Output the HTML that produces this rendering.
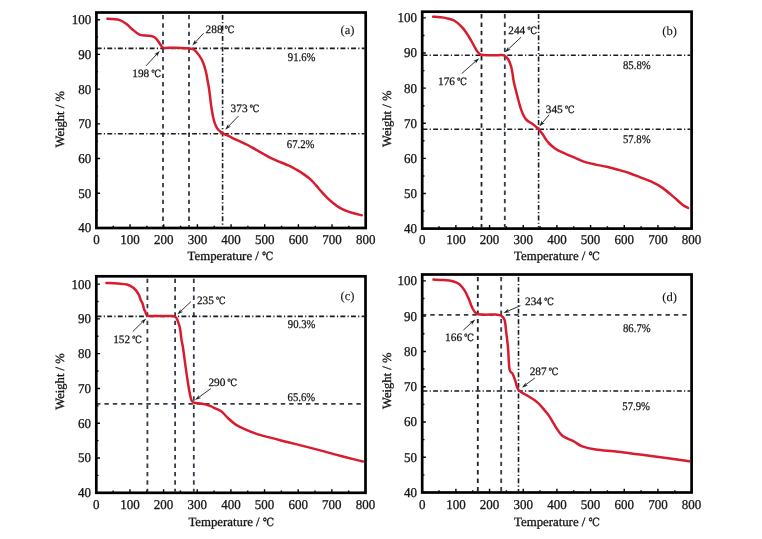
<!DOCTYPE html>
<html><head><meta charset="utf-8"><style>
html,body{margin:0;padding:0;background:#fff;width:762px;height:539px;overflow:hidden}
svg{display:block}
text{font-family:"Liberation Serif", "Noto Serif CJK SC", serif;text-rendering:geometricPrecision}
</style></head><body>
<svg width="762" height="539" viewBox="0 0 762 539">
<defs><filter id="soft" x="0" y="0" width="762" height="539" filterUnits="userSpaceOnUse"><feGaussianBlur stdDeviation="0.42"/></filter></defs>
<rect width="762" height="539" fill="#fff"/>
<g filter="url(#soft)">
<line x1="163.00" y1="14.90" x2="163.00" y2="226.65" stroke="#333c46" stroke-width="1.80" stroke-dasharray="4.4 4.0" stroke-dashoffset="0.00"/>
<line x1="189.00" y1="14.90" x2="189.00" y2="226.65" stroke="#333c46" stroke-width="1.80" stroke-dasharray="4.4 4.0" stroke-dashoffset="0.00"/>
<line x1="222.60" y1="14.90" x2="222.60" y2="226.65" stroke="#161d25" stroke-width="1.60" stroke-dasharray="4.9 2.25 1.2 2.25" stroke-dashoffset="0.00"/>
<line x1="96.70" y1="48.40" x2="364.35" y2="48.40" stroke="#161d25" stroke-width="1.60" stroke-dasharray="4.9 2.25 1.2 2.25" stroke-dashoffset="0.00"/>
<line x1="96.70" y1="133.80" x2="364.35" y2="133.80" stroke="#161d25" stroke-width="1.60" stroke-dasharray="4.9 2.25 1.2 2.25" stroke-dashoffset="0.00"/>
<path d="M107.40,18.70 C108.33,18.77 110.95,18.87 113.00,19.10 C115.05,19.33 117.50,19.32 119.70,20.10 C121.90,20.88 124.02,22.20 126.20,23.80 C128.38,25.40 130.60,27.90 132.80,29.70 C135.00,31.50 137.22,33.62 139.40,34.60 C141.58,35.58 143.72,35.30 145.90,35.60 C148.08,35.90 150.75,35.85 152.50,36.40 C154.25,36.95 155.08,37.53 156.40,38.90 C157.72,40.27 159.30,43.13 160.40,44.60 C161.50,46.07 161.73,47.17 163.00,47.70 C164.27,48.23 166.00,47.80 168.00,47.80 C170.00,47.80 172.67,47.68 175.00,47.70 C177.33,47.72 180.00,47.82 182.00,47.90 C184.00,47.98 185.50,48.07 187.00,48.20 C188.50,48.33 189.83,48.45 191.00,48.70 C192.17,48.95 193.05,49.10 194.00,49.70 C194.95,50.30 195.87,51.37 196.70,52.30 C197.53,53.23 198.27,54.28 199.00,55.30 C199.73,56.32 200.47,57.28 201.10,58.40 C201.73,59.52 202.25,60.67 202.80,62.00 C203.35,63.33 203.85,64.65 204.40,66.40 C204.95,68.15 205.58,70.23 206.10,72.50 C206.62,74.77 207.05,77.53 207.50,80.00 C207.95,82.47 208.40,84.80 208.80,87.30 C209.20,89.80 209.56,92.33 209.90,95.00 C210.24,97.67 210.48,100.52 210.85,103.30 C211.22,106.08 211.61,108.92 212.10,111.70 C212.59,114.48 213.17,117.63 213.80,120.00 C214.43,122.37 215.22,124.37 215.90,125.90 C216.58,127.43 217.13,128.23 217.90,129.20 C218.67,130.17 219.73,131.03 220.50,131.70 C221.27,132.37 221.60,132.67 222.50,133.20 C223.40,133.73 224.65,134.32 225.90,134.90 C227.15,135.48 228.62,136.05 230.00,136.70 C231.38,137.35 232.37,137.95 234.20,138.80 C236.03,139.65 238.60,140.68 241.00,141.80 C243.40,142.92 246.27,144.27 248.60,145.50 C250.93,146.73 252.62,147.85 255.00,149.20 C257.38,150.55 260.40,152.20 262.90,153.60 C265.40,155.00 267.63,156.40 270.00,157.60 C272.37,158.80 273.87,159.42 277.10,160.80 C280.33,162.18 286.17,164.42 289.40,165.90 C292.63,167.38 294.02,168.25 296.50,169.70 C298.98,171.15 301.92,172.95 304.30,174.60 C306.68,176.25 308.80,177.77 310.80,179.60 C312.80,181.43 314.50,183.55 316.30,185.60 C318.10,187.65 319.73,189.82 321.60,191.90 C323.47,193.98 325.43,196.12 327.50,198.10 C329.57,200.08 332.00,202.22 334.00,203.80 C336.00,205.38 337.67,206.50 339.50,207.60 C341.33,208.70 342.80,209.50 345.00,210.40 C347.20,211.30 349.92,212.18 352.70,213.00 C355.48,213.82 360.20,214.92 361.70,215.30" fill="none" stroke="#d81c2e" stroke-width="2.5" stroke-linecap="round" stroke-linejoin="round"/>
<path d="M96.40,228.00H100.05M96.40,210.64H98.05M96.40,193.28H100.05M96.40,175.93H98.05M96.40,158.57H100.05M96.40,141.21H98.05M96.40,123.85H100.05M96.40,106.49H98.05M96.40,89.13H100.05M96.40,71.78H98.05M96.40,54.42H100.05M96.40,37.06H98.05M96.40,19.70H100.05M96.40,228.00V224.35M113.23,228.00V225.75M130.06,228.00V224.35M146.89,228.00V225.75M163.72,228.00V224.35M180.56,228.00V225.75M197.39,228.00V224.35M214.22,228.00V225.75M231.05,228.00V224.35M247.88,228.00V225.75M264.71,228.00V224.35M281.54,228.00V225.75M298.38,228.00V224.35M315.21,228.00V225.75M332.04,228.00V224.35M348.87,228.00V225.75M365.70,228.00V224.35" stroke="#000" stroke-width="1.4" fill="none"/>
<rect x="96.40" y="12.50" width="269.30" height="215.50" fill="none" stroke="#000" stroke-width="2.70"/>
<g font-size="13.5" fill="#141414" stroke="#141414" stroke-width="0.28"><text x="91.20" y="232.40" text-anchor="end" textLength="13.00" lengthAdjust="spacingAndGlyphs">40</text><text x="91.20" y="197.68" text-anchor="end" textLength="13.00" lengthAdjust="spacingAndGlyphs">50</text><text x="91.20" y="162.97" text-anchor="end" textLength="13.00" lengthAdjust="spacingAndGlyphs">60</text><text x="91.20" y="128.25" text-anchor="end" textLength="13.00" lengthAdjust="spacingAndGlyphs">70</text><text x="91.20" y="93.53" text-anchor="end" textLength="13.00" lengthAdjust="spacingAndGlyphs">80</text><text x="91.20" y="58.82" text-anchor="end" textLength="13.00" lengthAdjust="spacingAndGlyphs">90</text><text x="91.20" y="24.10" text-anchor="end" textLength="19.50" lengthAdjust="spacingAndGlyphs">100</text><text x="96.40" y="243.90" text-anchor="middle" textLength="6.50" lengthAdjust="spacingAndGlyphs">0</text><text x="130.06" y="243.90" text-anchor="middle" textLength="19.50" lengthAdjust="spacingAndGlyphs">100</text><text x="163.72" y="243.90" text-anchor="middle" textLength="19.50" lengthAdjust="spacingAndGlyphs">200</text><text x="197.39" y="243.90" text-anchor="middle" textLength="19.50" lengthAdjust="spacingAndGlyphs">300</text><text x="231.05" y="243.90" text-anchor="middle" textLength="19.50" lengthAdjust="spacingAndGlyphs">400</text><text x="264.71" y="243.90" text-anchor="middle" textLength="19.50" lengthAdjust="spacingAndGlyphs">500</text><text x="298.38" y="243.90" text-anchor="middle" textLength="19.50" lengthAdjust="spacingAndGlyphs">600</text><text x="332.04" y="243.90" text-anchor="middle" textLength="19.50" lengthAdjust="spacingAndGlyphs">700</text><text x="365.70" y="243.90" text-anchor="middle" textLength="19.50" lengthAdjust="spacingAndGlyphs">800</text></g>
<text transform="translate(64.00,119.30) rotate(-90)" text-anchor="middle" font-size="12.6" fill="#141414" stroke="#141414" stroke-width="0.3">Weight / %</text>
<text x="187.60" y="259.60" font-size="12.8" fill="#141414" stroke="#141414" stroke-width="0.3">Temperature / <tspan font-family='DejaVu Serif, Liberation Serif, Noto Serif CJK SC, serif' font-size="11.30" dx="0.00" textLength="11.40" lengthAdjust="spacingAndGlyphs">℃</tspan></text>
<line x1="146.00" y1="65.90" x2="156.78" y2="54.19" stroke="#1e1e1e" stroke-width="0.9"/>
<polygon points="159.80,50.90 157.00,56.75 156.78,54.19 154.20,54.18" fill="#1e1e1e"/>
<line x1="203.60" y1="33.20" x2="195.31" y2="42.30" stroke="#1e1e1e" stroke-width="0.9"/>
<polygon points="192.30,45.60 195.07,39.74 195.31,42.30 197.88,42.30" fill="#1e1e1e"/>
<line x1="238.50" y1="116.00" x2="228.31" y2="126.50" stroke="#1e1e1e" stroke-width="0.9"/>
<polygon points="225.20,129.70 228.16,123.93 228.31,126.50 230.88,126.57" fill="#1e1e1e"/>
<text x="132.30" y="77.00" font-size="11.3" fill="#141414" stroke="#141414" stroke-width="0.25">198 <tspan font-family='DejaVu Serif, Liberation Serif, Noto Serif CJK SC, serif' font-size="10.10" dx="-0.90" textLength="9.90" lengthAdjust="spacingAndGlyphs">℃</tspan></text>
<text x="205.60" y="32.70" font-size="11.3" fill="#141414" stroke="#141414" stroke-width="0.25">288 <tspan font-family='DejaVu Serif, Liberation Serif, Noto Serif CJK SC, serif' font-size="10.10" dx="-0.90" textLength="9.90" lengthAdjust="spacingAndGlyphs">℃</tspan></text>
<text x="230.60" y="112.20" font-size="11.3" fill="#141414" stroke="#141414" stroke-width="0.25">373 <tspan font-family='DejaVu Serif, Liberation Serif, Noto Serif CJK SC, serif' font-size="10.10" dx="-0.90" textLength="9.90" lengthAdjust="spacingAndGlyphs">℃</tspan></text>
<text x="287.80" y="61.00" font-size="11.8" textLength="27.7" lengthAdjust="spacingAndGlyphs" fill="#141414" stroke="#141414" stroke-width="0.25">91.6%</text>
<text x="286.80" y="148.20" font-size="11.8" textLength="27.7" lengthAdjust="spacingAndGlyphs" fill="#141414" stroke="#141414" stroke-width="0.25">67.2%</text>
<text x="340.50" y="34.20" font-size="12.60" fill="#141414" stroke="#141414" stroke-width="0.1">(a)</text>
<line x1="481.50" y1="14.10" x2="481.50" y2="227.25" stroke="#1c2028" stroke-width="1.80" stroke-dasharray="4.4 4.0" stroke-dashoffset="0.00"/>
<line x1="504.80" y1="14.10" x2="504.80" y2="227.25" stroke="#333c46" stroke-width="1.80" stroke-dasharray="4.4 4.0" stroke-dashoffset="0.00"/>
<line x1="538.60" y1="14.10" x2="538.60" y2="227.25" stroke="#161d25" stroke-width="1.60" stroke-dasharray="4.9 2.25 1.2 2.25" stroke-dashoffset="0.00"/>
<line x1="422.50" y1="55.30" x2="690.25" y2="55.30" stroke="#161d25" stroke-width="1.60" stroke-dasharray="4.9 2.25 1.2 2.25" stroke-dashoffset="0.00"/>
<line x1="422.50" y1="129.20" x2="690.25" y2="129.20" stroke="#161d25" stroke-width="1.60" stroke-dasharray="4.9 2.25 1.2 2.25" stroke-dashoffset="0.00"/>
<path d="M433.10,16.80 C434.25,16.87 437.82,16.98 440.00,17.20 C442.18,17.42 443.85,17.55 446.20,18.10 C448.55,18.65 451.47,19.00 454.10,20.50 C456.73,22.00 459.58,24.48 462.00,27.10 C464.42,29.72 466.63,33.15 468.60,36.20 C470.57,39.25 472.28,42.77 473.80,45.40 C475.32,48.03 476.50,50.47 477.70,52.00 C478.90,53.53 479.25,54.07 481.00,54.60 C482.75,55.13 485.25,55.10 488.20,55.20 C491.15,55.30 496.08,55.17 498.70,55.20 C501.32,55.23 502.30,54.68 503.90,55.40 C505.50,56.12 507.10,57.65 508.30,59.50 C509.50,61.35 510.38,64.08 511.10,66.50 C511.82,68.92 512.13,71.37 512.60,74.00 C513.07,76.63 513.07,78.45 513.90,82.30 C514.73,86.15 516.37,92.47 517.60,97.10 C518.83,101.73 519.90,106.38 521.30,110.10 C522.70,113.82 524.13,117.08 526.00,119.40 C527.87,121.72 530.50,122.47 532.50,124.00 C534.50,125.53 536.30,126.90 538.00,128.60 C539.70,130.30 541.43,132.47 542.70,134.20 C543.97,135.93 544.52,137.45 545.60,139.00 C546.68,140.55 547.52,141.83 549.20,143.50 C550.88,145.17 553.52,147.53 555.70,149.00 C557.88,150.47 559.35,150.93 562.30,152.30 C565.25,153.67 569.70,155.60 573.40,157.20 C577.10,158.80 580.78,160.67 584.50,161.90 C588.22,163.13 591.98,163.78 595.70,164.60 C599.42,165.42 603.08,165.95 606.80,166.80 C610.52,167.65 614.28,168.67 618.00,169.70 C621.72,170.73 625.40,171.73 629.10,173.00 C632.80,174.27 636.48,175.85 640.20,177.30 C643.92,178.75 647.68,179.93 651.40,181.70 C655.12,183.47 658.80,185.37 662.50,187.90 C666.20,190.43 670.27,194.10 673.60,196.90 C676.93,199.70 680.08,202.85 682.50,204.70 C684.92,206.55 687.17,207.45 688.10,208.00" fill="none" stroke="#d81c2e" stroke-width="2.5" stroke-linecap="round" stroke-linejoin="round"/>
<path d="M422.20,228.60H425.85M422.20,211.04H424.45M422.20,193.48H425.85M422.20,175.93H424.45M422.20,158.37H425.85M422.20,140.81H424.45M422.20,123.25H425.85M422.20,105.69H424.45M422.20,88.13H425.85M422.20,70.58H424.45M422.20,53.02H425.85M422.20,35.46H424.45M422.20,17.90H425.85M422.20,228.60V224.95M439.04,228.60V226.35M455.88,228.60V224.95M472.71,228.60V226.35M489.55,228.60V224.95M506.39,228.60V226.35M523.23,228.60V224.95M540.06,228.60V226.35M556.90,228.60V224.95M573.74,228.60V226.35M590.58,228.60V224.95M607.41,228.60V226.35M624.25,228.60V224.95M641.09,228.60V226.35M657.92,228.60V224.95M674.76,228.60V226.35M691.60,228.60V224.95" stroke="#000" stroke-width="1.4" fill="none"/>
<rect x="422.20" y="11.70" width="269.40" height="216.90" fill="none" stroke="#000" stroke-width="2.70"/>
<g font-size="13.5" fill="#141414" stroke="#141414" stroke-width="0.28"><text x="417.00" y="233.00" text-anchor="end" textLength="13.00" lengthAdjust="spacingAndGlyphs">40</text><text x="417.00" y="197.88" text-anchor="end" textLength="13.00" lengthAdjust="spacingAndGlyphs">50</text><text x="417.00" y="162.77" text-anchor="end" textLength="13.00" lengthAdjust="spacingAndGlyphs">60</text><text x="417.00" y="127.65" text-anchor="end" textLength="13.00" lengthAdjust="spacingAndGlyphs">70</text><text x="417.00" y="92.53" text-anchor="end" textLength="13.00" lengthAdjust="spacingAndGlyphs">80</text><text x="417.00" y="57.42" text-anchor="end" textLength="13.00" lengthAdjust="spacingAndGlyphs">90</text><text x="417.00" y="22.30" text-anchor="end" textLength="19.50" lengthAdjust="spacingAndGlyphs">100</text><text x="422.20" y="244.20" text-anchor="middle" textLength="6.50" lengthAdjust="spacingAndGlyphs">0</text><text x="455.88" y="244.20" text-anchor="middle" textLength="19.50" lengthAdjust="spacingAndGlyphs">100</text><text x="489.55" y="244.20" text-anchor="middle" textLength="19.50" lengthAdjust="spacingAndGlyphs">200</text><text x="523.23" y="244.20" text-anchor="middle" textLength="19.50" lengthAdjust="spacingAndGlyphs">300</text><text x="556.90" y="244.20" text-anchor="middle" textLength="19.50" lengthAdjust="spacingAndGlyphs">400</text><text x="590.58" y="244.20" text-anchor="middle" textLength="19.50" lengthAdjust="spacingAndGlyphs">500</text><text x="624.25" y="244.20" text-anchor="middle" textLength="19.50" lengthAdjust="spacingAndGlyphs">600</text><text x="657.92" y="244.20" text-anchor="middle" textLength="19.50" lengthAdjust="spacingAndGlyphs">700</text><text x="691.60" y="244.20" text-anchor="middle" textLength="19.50" lengthAdjust="spacingAndGlyphs">800</text></g>
<text transform="translate(390.50,118.80) rotate(-90)" text-anchor="middle" font-size="12.6" fill="#141414" stroke="#141414" stroke-width="0.3">Weight / %</text>
<text x="514.10" y="260.00" font-size="12.8" fill="#141414" stroke="#141414" stroke-width="0.3">Temperature / <tspan font-family='DejaVu Serif, Liberation Serif, Noto Serif CJK SC, serif' font-size="11.30" dx="0.00" textLength="11.40" lengthAdjust="spacingAndGlyphs">℃</tspan></text>
<line x1="461.70" y1="73.60" x2="475.76" y2="61.16" stroke="#1e1e1e" stroke-width="0.9"/>
<polygon points="479.10,58.20 475.72,63.73 475.76,61.16 473.20,60.89" fill="#1e1e1e"/>
<line x1="521.10" y1="37.20" x2="508.26" y2="49.25" stroke="#1e1e1e" stroke-width="0.9"/>
<polygon points="505.00,52.30 508.22,46.67 508.26,49.25 510.82,49.44" fill="#1e1e1e"/>
<line x1="549.20" y1="114.70" x2="542.18" y2="122.99" stroke="#1e1e1e" stroke-width="0.9"/>
<polygon points="539.30,126.40 541.85,120.44 542.18,122.99 544.76,122.89" fill="#1e1e1e"/>
<text x="438.00" y="85.20" font-size="11.3" fill="#141414" stroke="#141414" stroke-width="0.25">176 <tspan font-family='DejaVu Serif, Liberation Serif, Noto Serif CJK SC, serif' font-size="10.10" dx="-0.90" textLength="9.90" lengthAdjust="spacingAndGlyphs">℃</tspan></text>
<text x="508.30" y="33.90" font-size="11.3" fill="#141414" stroke="#141414" stroke-width="0.25">244 <tspan font-family='DejaVu Serif, Liberation Serif, Noto Serif CJK SC, serif' font-size="10.10" dx="-0.90" textLength="9.90" lengthAdjust="spacingAndGlyphs">℃</tspan></text>
<text x="545.80" y="112.90" font-size="11.3" fill="#141414" stroke="#141414" stroke-width="0.25">345 <tspan font-family='DejaVu Serif, Liberation Serif, Noto Serif CJK SC, serif' font-size="10.10" dx="-0.90" textLength="9.90" lengthAdjust="spacingAndGlyphs">℃</tspan></text>
<text x="623.00" y="68.50" font-size="11.8" textLength="27.7" lengthAdjust="spacingAndGlyphs" fill="#141414" stroke="#141414" stroke-width="0.25">85.8%</text>
<text x="622.90" y="143.00" font-size="11.8" textLength="27.7" lengthAdjust="spacingAndGlyphs" fill="#141414" stroke="#141414" stroke-width="0.25">57.8%</text>
<text x="662.30" y="34.90" font-size="12.60" fill="#141414" stroke="#141414" stroke-width="0.1">(b)</text>
<line x1="147.40" y1="278.70" x2="147.40" y2="491.45" stroke="#333c46" stroke-width="1.80" stroke-dasharray="4.4 4.0" stroke-dashoffset="0.00"/>
<line x1="175.10" y1="278.70" x2="175.10" y2="491.45" stroke="#333c46" stroke-width="1.80" stroke-dasharray="4.4 4.0" stroke-dashoffset="0.00"/>
<line x1="193.80" y1="278.70" x2="193.80" y2="491.45" stroke="#333c46" stroke-width="1.80" stroke-dasharray="4.4 4.0" stroke-dashoffset="0.00"/>
<line x1="96.60" y1="316.40" x2="364.15" y2="316.40" stroke="#161d25" stroke-width="1.60" stroke-dasharray="4.9 2.25 1.2 2.25" stroke-dashoffset="0.00"/>
<line x1="96.00" y1="403.80" x2="364.15" y2="403.80" stroke="#333c46" stroke-width="1.80" stroke-dasharray="4.4 4.0" stroke-dashoffset="0.00"/>
<path d="M106.40,283.00 C108.28,283.08 114.28,283.25 117.70,283.50 C121.12,283.75 124.28,283.78 126.90,284.50 C129.52,285.22 131.43,286.15 133.40,287.80 C135.37,289.45 137.48,292.37 138.70,294.40 C139.92,296.43 140.05,298.47 140.70,300.00 C141.35,301.53 142.05,302.07 142.60,303.60 C143.15,305.13 143.57,307.90 144.00,309.20 C144.43,310.50 144.77,310.43 145.20,311.40 C145.63,312.37 146.05,314.25 146.60,315.00 C147.15,315.75 147.52,315.73 148.50,315.90 C149.48,316.07 150.58,315.98 152.50,316.00 C154.42,316.02 156.72,316.00 160.00,316.00 C163.28,316.00 169.52,315.75 172.20,316.00 C174.88,316.25 175.02,316.23 176.10,317.50 C177.18,318.77 178.02,321.63 178.70,323.60 C179.38,325.57 179.75,326.67 180.20,329.30 C180.65,331.93 180.93,336.32 181.40,339.40 C181.87,342.48 182.27,343.00 183.00,347.80 C183.73,352.60 184.87,361.70 185.80,368.20 C186.73,374.70 187.68,381.53 188.60,386.80 C189.52,392.07 190.38,397.17 191.30,399.80 C192.22,402.43 192.65,402.00 194.10,402.60 C195.55,403.20 198.13,403.10 200.00,403.40 C201.87,403.70 203.43,403.92 205.30,404.40 C207.17,404.88 209.67,405.68 211.20,406.30 C212.73,406.92 212.83,407.27 214.50,408.10 C216.17,408.93 218.97,409.65 221.20,411.30 C223.43,412.95 225.48,415.78 227.90,418.00 C230.32,420.22 232.92,422.75 235.70,424.60 C238.48,426.45 241.25,427.60 244.60,429.10 C247.95,430.60 252.07,432.30 255.80,433.60 C259.53,434.90 261.42,435.42 267.00,436.90 C272.58,438.38 281.87,440.63 289.30,442.50 C296.73,444.37 304.17,446.17 311.60,448.10 C319.03,450.03 326.47,452.13 333.90,454.10 C341.33,456.07 351.37,458.67 356.20,459.90 C361.03,461.13 361.78,461.23 362.90,461.50" fill="none" stroke="#d81c2e" stroke-width="2.5" stroke-linecap="round" stroke-linejoin="round"/>
<path d="M96.30,492.80H99.95M96.30,475.41H98.55M96.30,458.02H99.95M96.30,440.62H98.55M96.30,423.23H99.95M96.30,405.84H98.55M96.30,388.45H99.95M96.30,371.06H98.55M96.30,353.67H99.95M96.30,336.28H98.55M96.30,318.88H99.95M96.30,301.49H98.55M96.30,284.10H99.95M96.30,492.80V489.15M113.12,492.80V490.55M129.95,492.80V489.15M146.77,492.80V490.55M163.60,492.80V489.15M180.42,492.80V490.55M197.25,492.80V489.15M214.07,492.80V490.55M230.90,492.80V489.15M247.72,492.80V490.55M264.55,492.80V489.15M281.38,492.80V490.55M298.20,492.80V489.15M315.02,492.80V490.55M331.85,492.80V489.15M348.67,492.80V490.55M365.50,492.80V489.15" stroke="#000" stroke-width="1.4" fill="none"/>
<rect x="96.30" y="276.30" width="269.20" height="216.50" fill="none" stroke="#000" stroke-width="2.70"/>
<g font-size="13.5" fill="#141414" stroke="#141414" stroke-width="0.28"><text x="91.10" y="497.20" text-anchor="end" textLength="13.00" lengthAdjust="spacingAndGlyphs">40</text><text x="91.10" y="462.42" text-anchor="end" textLength="13.00" lengthAdjust="spacingAndGlyphs">50</text><text x="91.10" y="427.63" text-anchor="end" textLength="13.00" lengthAdjust="spacingAndGlyphs">60</text><text x="91.10" y="392.85" text-anchor="end" textLength="13.00" lengthAdjust="spacingAndGlyphs">70</text><text x="91.10" y="358.07" text-anchor="end" textLength="13.00" lengthAdjust="spacingAndGlyphs">80</text><text x="91.10" y="323.28" text-anchor="end" textLength="13.00" lengthAdjust="spacingAndGlyphs">90</text><text x="91.10" y="288.50" text-anchor="end" textLength="19.50" lengthAdjust="spacingAndGlyphs">100</text><text x="96.30" y="508.70" text-anchor="middle" textLength="6.50" lengthAdjust="spacingAndGlyphs">0</text><text x="129.95" y="508.70" text-anchor="middle" textLength="19.50" lengthAdjust="spacingAndGlyphs">100</text><text x="163.60" y="508.70" text-anchor="middle" textLength="19.50" lengthAdjust="spacingAndGlyphs">200</text><text x="197.25" y="508.70" text-anchor="middle" textLength="19.50" lengthAdjust="spacingAndGlyphs">300</text><text x="230.90" y="508.70" text-anchor="middle" textLength="19.50" lengthAdjust="spacingAndGlyphs">400</text><text x="264.55" y="508.70" text-anchor="middle" textLength="19.50" lengthAdjust="spacingAndGlyphs">500</text><text x="298.20" y="508.70" text-anchor="middle" textLength="19.50" lengthAdjust="spacingAndGlyphs">600</text><text x="331.85" y="508.70" text-anchor="middle" textLength="19.50" lengthAdjust="spacingAndGlyphs">700</text><text x="365.50" y="508.70" text-anchor="middle" textLength="19.50" lengthAdjust="spacingAndGlyphs">800</text></g>
<text transform="translate(64.00,381.50) rotate(-90)" text-anchor="middle" font-size="12.6" fill="#141414" stroke="#141414" stroke-width="0.3">Weight / %</text>
<text x="188.40" y="525.70" font-size="12.8" fill="#141414" stroke="#141414" stroke-width="0.3">Temperature / <tspan font-family='DejaVu Serif, Liberation Serif, Noto Serif CJK SC, serif' font-size="11.30" dx="0.00" textLength="11.40" lengthAdjust="spacingAndGlyphs">℃</tspan></text>
<line x1="132.80" y1="331.50" x2="143.01" y2="321.52" stroke="#1e1e1e" stroke-width="0.9"/>
<polygon points="146.20,318.40 143.09,324.09 143.01,321.52 140.44,321.38" fill="#1e1e1e"/>
<line x1="191.00" y1="301.50" x2="180.53" y2="311.51" stroke="#1e1e1e" stroke-width="0.9"/>
<polygon points="177.30,314.60 180.47,308.94 180.53,311.51 183.09,311.69" fill="#1e1e1e"/>
<line x1="210.80" y1="388.60" x2="198.61" y2="397.47" stroke="#1e1e1e" stroke-width="0.9"/>
<polygon points="195.00,400.10 198.89,394.92 198.61,397.47 201.13,397.99" fill="#1e1e1e"/>
<text x="113.20" y="342.70" font-size="11.3" fill="#141414" stroke="#141414" stroke-width="0.25">152 <tspan font-family='DejaVu Serif, Liberation Serif, Noto Serif CJK SC, serif' font-size="10.10" dx="-0.90" textLength="9.90" lengthAdjust="spacingAndGlyphs">℃</tspan></text>
<text x="196.90" y="303.90" font-size="11.3" fill="#141414" stroke="#141414" stroke-width="0.25">235 <tspan font-family='DejaVu Serif, Liberation Serif, Noto Serif CJK SC, serif' font-size="10.10" dx="-0.90" textLength="9.90" lengthAdjust="spacingAndGlyphs">℃</tspan></text>
<text x="208.40" y="385.90" font-size="11.3" fill="#141414" stroke="#141414" stroke-width="0.25">290 <tspan font-family='DejaVu Serif, Liberation Serif, Noto Serif CJK SC, serif' font-size="10.10" dx="-0.90" textLength="9.90" lengthAdjust="spacingAndGlyphs">℃</tspan></text>
<text x="287.80" y="328.30" font-size="11.8" textLength="27.7" lengthAdjust="spacingAndGlyphs" fill="#141414" stroke="#141414" stroke-width="0.25">90.3%</text>
<text x="287.60" y="400.50" font-size="11.8" textLength="27.7" lengthAdjust="spacingAndGlyphs" fill="#141414" stroke="#141414" stroke-width="0.25">65.6%</text>
<text x="340.50" y="300.20" font-size="12.60" fill="#141414" stroke="#141414" stroke-width="0.1">(c)</text>
<line x1="477.80" y1="276.90" x2="477.80" y2="491.15" stroke="#1c2028" stroke-width="1.80" stroke-dasharray="4.4 4.0" stroke-dashoffset="0.00"/>
<line x1="501.20" y1="276.90" x2="501.20" y2="491.15" stroke="#333c46" stroke-width="1.80" stroke-dasharray="4.4 4.0" stroke-dashoffset="0.00"/>
<line x1="518.50" y1="276.90" x2="518.50" y2="491.15" stroke="#161d25" stroke-width="1.60" stroke-dasharray="4.9 2.25 1.2 2.25" stroke-dashoffset="0.00"/>
<line x1="421.90" y1="314.80" x2="690.25" y2="314.80" stroke="#333c46" stroke-width="1.80" stroke-dasharray="4.4 4.0" stroke-dashoffset="0.00"/>
<line x1="422.50" y1="391.00" x2="690.25" y2="391.00" stroke="#161d25" stroke-width="1.60" stroke-dasharray="4.9 2.25 1.2 2.25" stroke-dashoffset="0.00"/>
<path d="M433.50,279.60 C435.20,279.67 440.47,279.72 443.70,280.00 C446.93,280.28 450.28,280.60 452.90,281.30 C455.52,282.00 457.43,282.63 459.40,284.20 C461.37,285.77 463.17,288.30 464.70,290.70 C466.23,293.10 467.28,295.63 468.60,298.60 C469.92,301.57 471.28,305.98 472.60,308.50 C473.92,311.02 474.75,312.68 476.50,313.70 C478.25,314.72 479.82,314.45 483.10,314.60 C486.38,314.75 493.15,314.42 496.20,314.60 C499.25,314.78 499.98,314.75 501.40,315.70 C502.82,316.65 503.92,317.73 504.70,320.30 C505.48,322.87 505.55,326.52 506.10,331.10 C506.65,335.68 507.43,341.45 508.00,347.80 C508.57,354.15 508.73,364.87 509.50,369.20 C510.27,373.53 511.62,371.80 512.60,373.80 C513.58,375.80 514.62,378.88 515.40,381.20 C516.18,383.52 516.53,386.00 517.30,387.70 C518.07,389.40 518.47,390.17 520.00,391.40 C521.53,392.63 524.17,393.70 526.50,395.10 C528.83,396.50 531.83,398.25 534.00,399.80 C536.17,401.35 537.65,402.55 539.50,404.40 C541.35,406.25 543.53,409.03 545.10,410.90 C546.67,412.77 547.15,412.95 548.90,415.60 C550.65,418.25 553.37,423.45 555.60,426.80 C557.83,430.15 559.33,433.30 562.30,435.70 C565.27,438.10 570.07,439.42 573.40,441.20 C576.73,442.98 578.58,445.02 582.30,446.40 C586.02,447.78 589.77,448.62 595.70,449.50 C601.63,450.38 610.48,450.85 617.90,451.70 C625.32,452.55 632.77,453.63 640.20,454.60 C647.63,455.57 654.33,456.38 662.50,457.50 C670.67,458.62 684.75,460.67 689.20,461.30" fill="none" stroke="#d81c2e" stroke-width="2.5" stroke-linecap="round" stroke-linejoin="round"/>
<path d="M422.20,492.50H425.85M422.20,474.87H424.45M422.20,457.23H425.85M422.20,439.60H424.45M422.20,421.97H425.85M422.20,404.33H424.45M422.20,386.70H425.85M422.20,369.07H424.45M422.20,351.43H425.85M422.20,333.80H424.45M422.20,316.17H425.85M422.20,298.53H424.45M422.20,280.90H425.85M422.20,492.50V488.85M439.04,492.50V490.25M455.88,492.50V488.85M472.71,492.50V490.25M489.55,492.50V488.85M506.39,492.50V490.25M523.23,492.50V488.85M540.06,492.50V490.25M556.90,492.50V488.85M573.74,492.50V490.25M590.58,492.50V488.85M607.41,492.50V490.25M624.25,492.50V488.85M641.09,492.50V490.25M657.92,492.50V488.85M674.76,492.50V490.25M691.60,492.50V488.85" stroke="#000" stroke-width="1.4" fill="none"/>
<rect x="422.20" y="274.50" width="269.40" height="218.00" fill="none" stroke="#000" stroke-width="2.70"/>
<g font-size="13.5" fill="#141414" stroke="#141414" stroke-width="0.28"><text x="417.00" y="496.90" text-anchor="end" textLength="13.00" lengthAdjust="spacingAndGlyphs">40</text><text x="417.00" y="461.63" text-anchor="end" textLength="13.00" lengthAdjust="spacingAndGlyphs">50</text><text x="417.00" y="426.37" text-anchor="end" textLength="13.00" lengthAdjust="spacingAndGlyphs">60</text><text x="417.00" y="391.10" text-anchor="end" textLength="13.00" lengthAdjust="spacingAndGlyphs">70</text><text x="417.00" y="355.83" text-anchor="end" textLength="13.00" lengthAdjust="spacingAndGlyphs">80</text><text x="417.00" y="320.57" text-anchor="end" textLength="13.00" lengthAdjust="spacingAndGlyphs">90</text><text x="417.00" y="285.30" text-anchor="end" textLength="19.50" lengthAdjust="spacingAndGlyphs">100</text><text x="422.20" y="508.80" text-anchor="middle" textLength="6.50" lengthAdjust="spacingAndGlyphs">0</text><text x="455.88" y="508.80" text-anchor="middle" textLength="19.50" lengthAdjust="spacingAndGlyphs">100</text><text x="489.55" y="508.80" text-anchor="middle" textLength="19.50" lengthAdjust="spacingAndGlyphs">200</text><text x="523.23" y="508.80" text-anchor="middle" textLength="19.50" lengthAdjust="spacingAndGlyphs">300</text><text x="556.90" y="508.80" text-anchor="middle" textLength="19.50" lengthAdjust="spacingAndGlyphs">400</text><text x="590.58" y="508.80" text-anchor="middle" textLength="19.50" lengthAdjust="spacingAndGlyphs">500</text><text x="624.25" y="508.80" text-anchor="middle" textLength="19.50" lengthAdjust="spacingAndGlyphs">600</text><text x="657.92" y="508.80" text-anchor="middle" textLength="19.50" lengthAdjust="spacingAndGlyphs">700</text><text x="691.60" y="508.80" text-anchor="middle" textLength="19.50" lengthAdjust="spacingAndGlyphs">800</text></g>
<text transform="translate(391.20,380.80) rotate(-90)" text-anchor="middle" font-size="12.6" fill="#141414" stroke="#141414" stroke-width="0.3">Weight / %</text>
<text x="514.10" y="525.50" font-size="12.8" fill="#141414" stroke="#141414" stroke-width="0.3">Temperature / <tspan font-family='DejaVu Serif, Liberation Serif, Noto Serif CJK SC, serif' font-size="11.30" dx="0.00" textLength="11.40" lengthAdjust="spacingAndGlyphs">℃</tspan></text>
<line x1="463.30" y1="330.10" x2="471.88" y2="322.38" stroke="#1e1e1e" stroke-width="0.9"/>
<polygon points="475.20,319.40 471.86,324.96 471.88,322.38 469.32,322.13" fill="#1e1e1e"/>
<line x1="520.40" y1="305.70" x2="507.50" y2="311.24" stroke="#1e1e1e" stroke-width="0.9"/>
<polygon points="503.40,313.00 508.35,308.81 507.50,311.24 509.85,312.30" fill="#1e1e1e"/>
<line x1="534.90" y1="377.90" x2="525.46" y2="385.01" stroke="#1e1e1e" stroke-width="0.9"/>
<polygon points="521.90,387.70 525.71,382.45 525.46,385.01 527.99,385.49" fill="#1e1e1e"/>
<text x="445.10" y="341.20" font-size="11.3" fill="#141414" stroke="#141414" stroke-width="0.25">166 <tspan font-family='DejaVu Serif, Liberation Serif, Noto Serif CJK SC, serif' font-size="10.10" dx="-0.90" textLength="9.90" lengthAdjust="spacingAndGlyphs">℃</tspan></text>
<text x="525.00" y="305.00" font-size="11.3" fill="#141414" stroke="#141414" stroke-width="0.25">234 <tspan font-family='DejaVu Serif, Liberation Serif, Noto Serif CJK SC, serif' font-size="10.10" dx="-0.90" textLength="9.90" lengthAdjust="spacingAndGlyphs">℃</tspan></text>
<text x="529.70" y="374.70" font-size="11.3" fill="#141414" stroke="#141414" stroke-width="0.25">287 <tspan font-family='DejaVu Serif, Liberation Serif, Noto Serif CJK SC, serif' font-size="10.10" dx="-0.90" textLength="9.90" lengthAdjust="spacingAndGlyphs">℃</tspan></text>
<text x="623.00" y="331.70" font-size="11.8" textLength="27.7" lengthAdjust="spacingAndGlyphs" fill="#141414" stroke="#141414" stroke-width="0.25">86.7%</text>
<text x="622.30" y="410.10" font-size="11.8" textLength="27.7" lengthAdjust="spacingAndGlyphs" fill="#141414" stroke="#141414" stroke-width="0.25">57.9%</text>
<text x="662.30" y="300.50" font-size="12.60" fill="#141414" stroke="#141414" stroke-width="0.1">(d)</text>
</g>
</svg>
</body></html>
